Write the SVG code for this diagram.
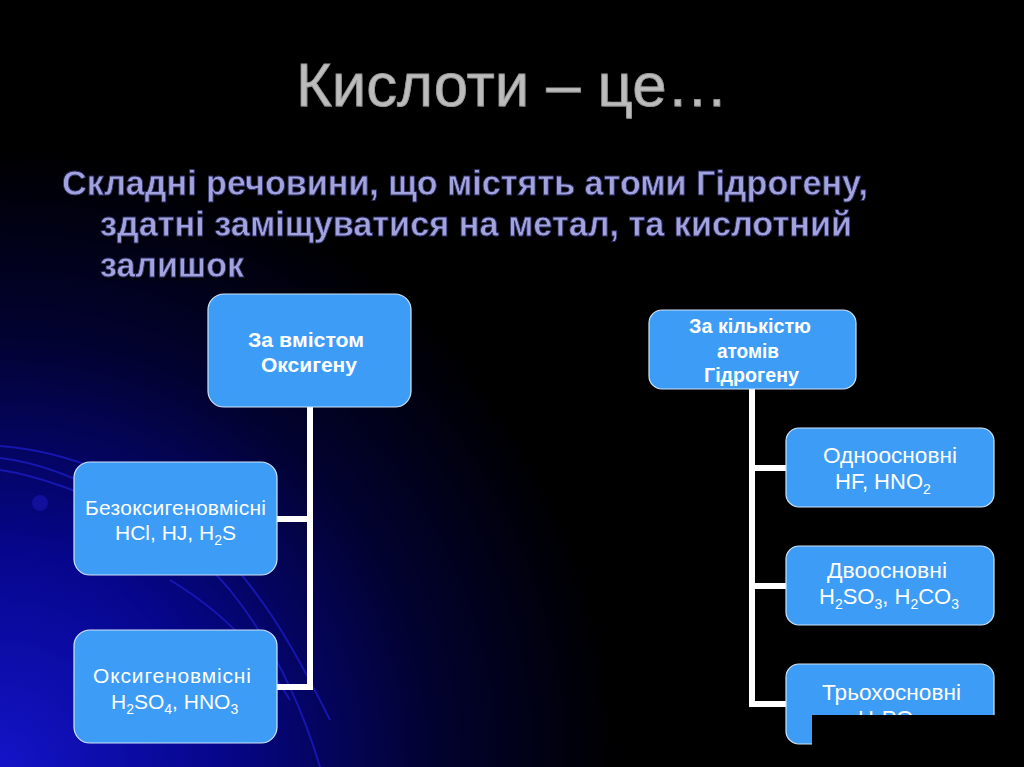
<svg xmlns="http://www.w3.org/2000/svg" width="1024" height="767" viewBox="0 0 1024 767">
<defs>
<radialGradient id="bg" cx="0" cy="767" r="620" gradientUnits="userSpaceOnUse">
<stop offset="0" stop-color="#1414c8"/>
<stop offset="0.35" stop-color="#06068c"/>
<stop offset="0.7" stop-color="#020230"/>
<stop offset="1" stop-color="#000000"/>
</radialGradient>
<filter id="sh" x="-5%" y="-20%" width="110%" height="140%">
<feDropShadow dx="2" dy="2" stdDeviation="1.2" flood-color="#000000" flood-opacity="0.9"/>
</filter>
</defs>
<style>
.box{fill:#3d9cf6;stroke:#d0e4f8;stroke-width:1.2}
.tb{font-family:"Liberation Sans",Arial,sans-serif;font-weight:bold;font-size:20px;fill:#ffffff}
.tr{font-family:"Liberation Sans",Arial,sans-serif;font-size:21px;fill:#ffffff}
.tr2{font-family:"Liberation Sans",Arial,sans-serif;font-size:22px;fill:#ffffff}
.sub{font-size:14px}
.conn{stroke:#ffffff;stroke-width:6;fill:none}
.arc{stroke:#1c1cc0;stroke-width:2;fill:none;opacity:0.8}
</style>
<rect width="1024" height="767" fill="#000"/>
<rect width="1024" height="767" fill="url(#bg)"/>
<g id="background-arcs">
<path class="arc" d="M0,446 C60,450 150,480 210,540 C260,590 290,640 330,720"/>
<path class="arc" d="M0,458 C70,466 170,520 230,590 C270,640 300,700 320,767"/>
<path class="arc" d="M0,470 C40,476 80,492 120,510"/>
<path class="arc" d="M170,580 C220,610 260,650 290,700"/>
<circle cx="40" cy="503" r="8" fill="#10109a"/>
</g>
<g id="title">
<text x="512" y="106" font-family="Liberation Sans,Arial,sans-serif" font-size="62" fill="#bcbcbc" stroke="#9a9a9a" stroke-width="0.8" text-anchor="middle" textLength="432" lengthAdjust="spacingAndGlyphs" filter="url(#sh)">Кислоти – це…</text>
</g>
<g id="definition" font-family="Liberation Sans,Arial,sans-serif" font-weight="bold" font-size="35" fill="#a2a2dc" stroke="#2a2a60" stroke-width="0.8" filter="url(#sh)">
<text x="62" y="195" textLength="806" lengthAdjust="spacingAndGlyphs">Складні речовини, що містять атоми Гідрогену,</text>
<text x="100" y="236" textLength="752" lengthAdjust="spacingAndGlyphs">здатні заміщуватися на метал, та кислотний</text>
<text x="100" y="277" textLength="144" lengthAdjust="spacingAndGlyphs">залишок</text>
</g>
<g id="connectors">
<path class="conn" d="M310,407 V690 M277,519 H313 M277,687 H313"/>
<path class="conn" d="M752,389 V707 M749,468 H786 M749,586 H786 M749,704 H786"/>
</g>
<g id="node-oxygen">
<rect class="box" x="208" y="294" width="203" height="113" rx="16"/>
<text class="tb" x="248" y="347" textLength="116" lengthAdjust="spacingAndGlyphs">За вмістом</text>
<text class="tb" x="261" y="372" textLength="96" lengthAdjust="spacingAndGlyphs">Оксигену</text>
</g>
<g id="node-hydrogen">
<rect class="box" x="649" y="310" width="207" height="79" rx="13"/>
<text class="tb" x="689" y="333" textLength="122" lengthAdjust="spacingAndGlyphs">За кількістю</text>
<text class="tb" x="717" y="358" textLength="62" lengthAdjust="spacingAndGlyphs">атомів</text>
<text class="tb" x="704" y="382" textLength="95" lengthAdjust="spacingAndGlyphs">Гідрогену</text>
</g>
<g id="node-anoxic">
<rect class="box" x="74" y="462" width="203" height="113" rx="16"/>
<text class="tr" x="85" y="515" textLength="181" lengthAdjust="spacing">Безоксигеновмісні</text>
<text class="tr" x="115" y="540">HCl, HJ, H<tspan class="sub" dy="5">2</tspan><tspan dy="-5">S</tspan></text>
</g>
<g id="node-oxic">
<rect class="box" x="74" y="630" width="203" height="113" rx="16"/>
<text class="tr" x="93" y="683" textLength="158" lengthAdjust="spacing">Оксигеновмісні</text>
<text class="tr" x="111" y="709">H<tspan class="sub" dy="5">2</tspan><tspan dy="-5">SO</tspan><tspan class="sub" dy="5">4</tspan><tspan dy="-5">, HNO</tspan><tspan class="sub" dy="5">3</tspan></text>
</g>
<g id="node-mono">
<rect class="box" x="786" y="428" width="208" height="79" rx="13"/>
<text class="tr2" x="823" y="463" textLength="134" lengthAdjust="spacingAndGlyphs">Одноосновні</text>
<text class="tr2" x="835" y="489">HF, HNO<tspan class="sub" dy="5">2</tspan></text>
</g>
<g id="node-di">
<rect class="box" x="786" y="546" width="208" height="79" rx="13"/>
<text class="tr2" x="827" y="578" textLength="120" lengthAdjust="spacingAndGlyphs">Двоосновні</text>
<text class="tr2" x="819" y="604">H<tspan class="sub" dy="5">2</tspan><tspan dy="-5">SO</tspan><tspan class="sub" dy="5">3</tspan><tspan dy="-5">, H</tspan><tspan class="sub" dy="5">2</tspan><tspan dy="-5">CO</tspan><tspan class="sub" dy="5">3</tspan></text>
</g>
<g id="node-tri">
<rect class="box" x="786" y="664" width="208" height="80" rx="13"/>
<text class="tr2" x="822" y="700" textLength="139" lengthAdjust="spacingAndGlyphs">Трьохосновні</text>
<text class="tr2" x="858" y="726">H<tspan class="sub" dy="5">3</tspan><tspan dy="-5">PO</tspan><tspan class="sub" dy="5">4</tspan></text>
</g>
<rect x="812" y="715" width="212" height="52" fill="#000000"/>
</svg>
